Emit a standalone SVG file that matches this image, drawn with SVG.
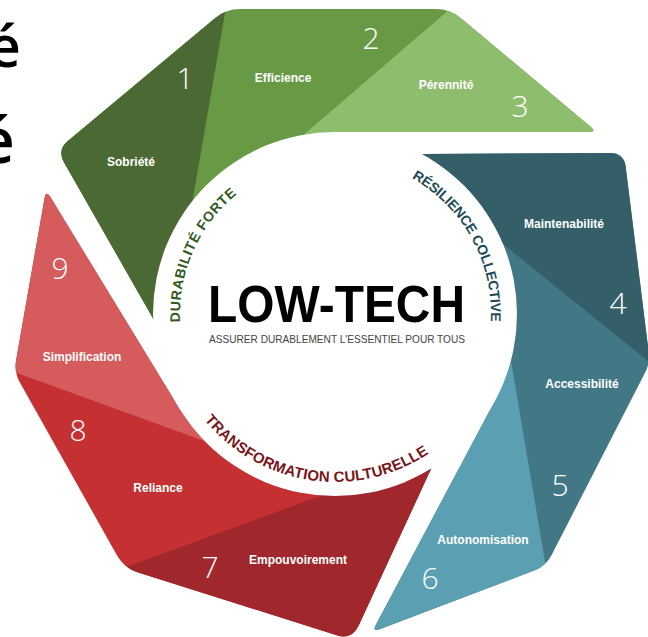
<svg xmlns="http://www.w3.org/2000/svg" width="648" height="637" viewBox="0 0 648 637">
<style>
.lbl{font-family:"Liberation Sans",Arial,sans-serif;font-weight:bold;font-size:12px;fill:#fff;text-anchor:middle}
.num{font-family:"Open Sans","Lato",sans-serif;font-weight:300;font-size:30px;fill:#fff;text-anchor:middle}
.arc{font-family:"Liberation Sans",Arial,sans-serif;font-weight:bold}
.frag{font-family:"Open Sans","Liberation Sans",sans-serif;font-weight:600;fill:#000}
</style>
<defs>
<clipPath id="cg"><path d="M155,322 L63.9,162.2 Q57,150 67.8,141 L215.2,18 Q226,9 240,9 L436,9 Q450,9 460.7,18 L590.9,126.9 Q597,132 589,132 L335,132 L335,314 Z"/></clipPath>
<clipPath id="cb"><path d="M423,154 L610,153 Q624,153 625.7,166.9 L648.8,353.1 Q650,363 645.4,371.9 L551.5,555.3 Q546,566 534.8,570.3 L379.5,629.2 Q372,632 375.8,624.9 L495.6,399.5 L335,314 Z"/></clipPath>
<clipPath id="cr"><path d="M431,469 L358.7,625.5 Q352,640 336.7,635.2 L137.4,572.2 Q124,568 117.2,555.8 L19.9,382.5 Q14,372 16.1,360.2 L44.6,197.9 Q46,190 50.2,196.8 L179.7,408.9 L335,314 Z"/></clipPath>
<path id="pDur" d="M180.2,322.1 A155,155 0 0 1 239.6,191.9"/>
<path id="pRes" d="M411.8,178.2 A156,156 0 0 1 490.4,327.6"/>
<path id="pTra" d="M204.4,419.7 A168,168 0 0 0 428.9,453.3"/>
</defs>

<text class="frag" x="-12" y="67" font-size="57">é</text>
<text class="frag" x="-22" y="163" font-size="64">é</text>

<g id="seg2-efficience">
<rect x="0" y="0" width="648" height="340" fill="#689a45" clip-path="url(#cg)"/>
<text class="lbl" x="283" y="82">Efficience</text>
<text class="num" x="371" y="49">2</text>
</g>
<g id="seg1-sobriete">
<polygon points="229,-10 165,360 -10,360 -10,-10" fill="#4b6a33" clip-path="url(#cg)"/>
<text class="lbl" x="131" y="166">Sobriété</text>
<text class="num" x="185" y="89">1</text>
</g>
<g id="seg3-perennite">
<polygon points="472,-10 650,-10 650,300 200,224" fill="#8fbd6e" clip-path="url(#cg)"/>
<text class="lbl" x="446" y="89">Pérennité</text>
<text class="num" x="520" y="117">3</text>
</g>

<g id="seg5-accessibilite">
<rect x="300" y="100" width="348" height="537" fill="#427886" clip-path="url(#cb)"/>
<text class="lbl" x="582" y="388">Accessibilité</text>
<text class="num" x="560" y="496">5</text>
</g>
<g id="seg4-maintenabilite">
<polygon points="700,403 400,161 400,100 700,100" fill="#345f69" clip-path="url(#cb)"/>
<text class="lbl" x="564" y="228" font-size="12.5">Maintenabilité</text>
<text class="num" x="618" y="314">4</text>
</g>
<g id="seg6-autonomisation">
<polygon points="560,650 504,320 335,320 300,650" fill="#5b9fb3" clip-path="url(#cb)"/>
<text class="lbl" x="483" y="544">Autonomisation</text>
<text class="num" x="430" y="589">6</text>
</g>

<g id="seg8-reliance">
<rect x="0" y="180" width="460" height="457" fill="#c53032" clip-path="url(#cr)"/>
<text class="lbl" x="158" y="492">Reliance</text>
<text class="num" x="78" y="441">8</text>
</g>
<g id="seg9-simplification">
<polygon points="-30,356 240,454 335,314 335,150 -30,150" fill="#d55b5c" clip-path="url(#cr)"/>
<text class="lbl" x="82" y="361">Simplification</text>
<text class="num" x="60" y="279">9</text>
</g>
<g id="seg7-empouvoirement">
<polygon points="80,584 350,485 450,440 450,700 80,700" fill="#a0282c" clip-path="url(#cr)"/>
<text class="lbl" x="298" y="564">Empouvoirement</text>
<text class="num" x="210" y="578">7</text>
</g>

<g id="centre">
<circle cx="335" cy="314" r="182" fill="#fff"/>
<text x="336.5" y="322" font-family="Liberation Sans,Arial,sans-serif" font-weight="bold" font-size="51" text-anchor="middle" textLength="257" lengthAdjust="spacingAndGlyphs" fill="#000">LOW-TECH</text>
<text x="337" y="343" font-family="Liberation Sans,Arial,sans-serif" font-size="11.5" text-anchor="middle" textLength="256" lengthAdjust="spacingAndGlyphs" fill="#444">ASSURER DURABLEMENT L'ESSENTIEL POUR TOUS</text>
</g>

<g id="pillars">
<text class="arc" font-size="14" fill="#2f5a1e"><textPath href="#pDur" textLength="145" lengthAdjust="spacing">DURABILITÉ FORTE</textPath></text>
<text class="arc" font-size="14" fill="#1d4a57"><textPath href="#pRes" textLength="172" lengthAdjust="spacing">RÉSILIENCE COLLECTIVE</textPath></text>
<text class="arc" font-size="15" fill="#7a1519"><textPath href="#pTra" textLength="249" lengthAdjust="spacing">TRANSFORMATION CULTURELLE</textPath></text>
</g>
</svg>
